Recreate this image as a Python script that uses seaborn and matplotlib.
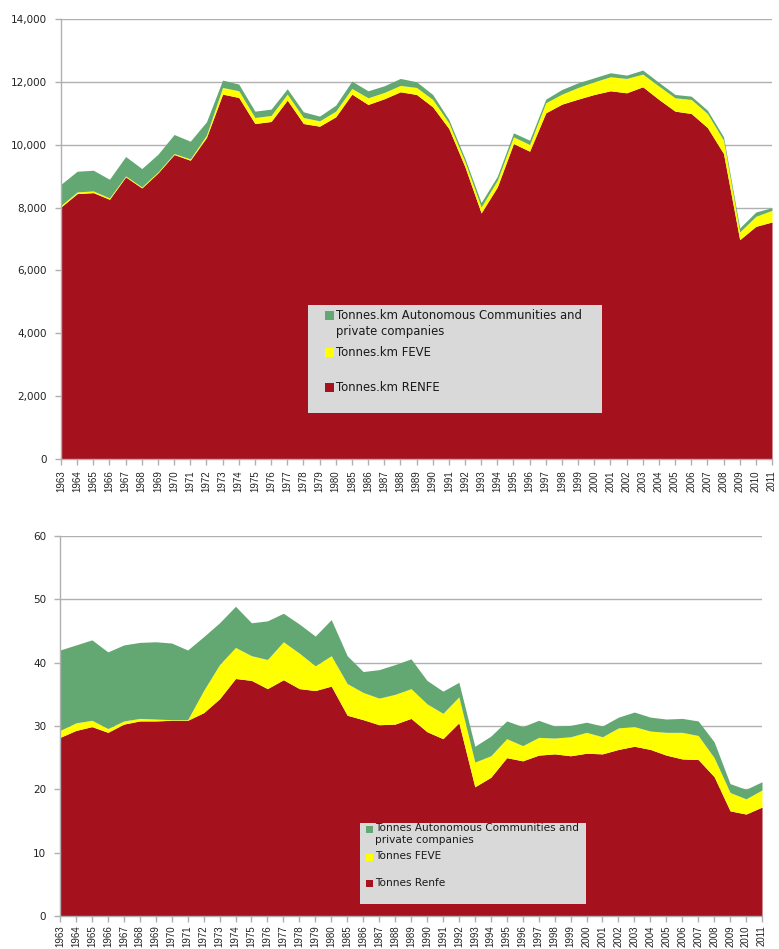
import numpy as np
import pandas as pd
import matplotlib
matplotlib.use("Agg")
import matplotlib.pyplot as plt
from matplotlib.patches import Rectangle
from matplotlib.ticker import FuncFormatter
import seaborn as sns

# years on the category axis (1981-1984 are missing in the source)
years = list(range(1963, 1981)) + list(range(1985, 2012))

# freight in tonnes.km (top chart)
renfe_tkm = [8020, 8445, 8476, 8264, 8976, 8625, 9103, 9687, 9507, 10229,
             11610, 11504, 10675, 10739, 11419, 10675, 10590, 10888,
             11610, 11281, 11461, 11684, 11599, 11206, 10516, 9294, 7829,
             8657, 10038, 9794, 11015, 11291, 11451, 11599, 11716, 11652,
             11843, 11440, 11068, 10994, 10548, 9719, 6979, 7403, 7542]
feve_tkm = [50, 53, 54, 42, 31, 32, 32, 32, 42, 74,
            212, 212, 191, 191, 191, 191, 170, 180,
            180, 212, 202, 202, 223, 234, 180, 160, 191,
            212, 212, 212, 319, 319, 371, 404, 446, 457,
            404, 425, 425, 446, 446, 425, 244, 319, 371]
other_tkm = [672, 658, 658, 595, 617, 584, 563, 606, 563, 425,
             234, 213, 202, 202, 170, 181, 149, 191,
             234, 223, 212, 223, 181, 159, 107, 106, 138,
             128, 128, 138, 117, 149, 149, 127, 128, 106,
             128, 117, 106, 106, 106, 106, 127, 138, 85]

# freight in tonnes (bottom chart)
renfe_t = [28.2, 29.3, 29.9, 29.0, 30.3, 30.8, 30.8, 30.9, 30.9, 32.1,
           34.3, 37.5, 37.2, 35.9, 37.3, 35.9, 35.6, 36.3,
           31.7, 31.0, 30.2, 30.3, 31.2, 29.1, 28.0, 30.5, 20.4,
           21.9, 25.0, 24.5, 25.4, 25.6, 25.3, 25.7, 25.6, 26.3,
           26.8, 26.3, 25.4, 24.8, 24.7, 22.0, 16.6, 16.1, 17.2]
feve_t = [1.1, 1.2, 1.0, 0.6, 0.5, 0.4, 0.3, 0.1, 0.1, 3.5,
          5.4, 4.9, 3.9, 4.6, 6.0, 5.6, 3.9, 4.8,
          5.0, 4.3, 4.2, 4.7, 4.7, 4.4, 4.0, 4.1, 3.9,
          3.4, 3.0, 2.4, 2.8, 2.5, 3.0, 3.3, 2.7, 3.4,
          3.1, 2.9, 3.6, 4.2, 3.8, 3.0, 2.9, 2.4, 2.7]
other_t = [12.7, 12.3, 12.7, 12.1, 12.0, 12.0, 12.2, 12.1, 11.0, 8.5,
           6.6, 6.5, 5.2, 6.1, 4.5, 4.6, 4.7, 5.7,
           4.4, 3.3, 4.5, 4.7, 4.7, 3.7, 3.5, 2.3, 2.5,
           3.1, 2.8, 3.0, 2.7, 1.9, 1.8, 1.6, 1.7, 1.7,
           2.3, 2.2, 2.1, 2.2, 2.3, 2.5, 1.4, 1.5, 1.3]

labels_tkm = ["Tonnes.km RENFE", "Tonnes.km FEVE",
              "Tonnes.km Autonomous Communities and\nprivate companies"]
labels_t = ["Tonnes Renfe", "Tonnes FEVE",
            "Tonnes Autonomous Communities and\nprivate companies"]

RED = "#A6111E"
YELLOW = "#FFFF00"
GREEN = "#63A873"
LEGEND_BG = "#D9D9D9"
GRID = "#B0B0B0"

sns.set_style("white")
plt.rcParams["font.family"] = ["DejaVu Sans"]

W, H = 779, 949
fig = plt.figure(figsize=(W / 100, H / 100), dpi=100)


def px_rect(left, top, right, bottom):
    return [left / W, 1 - bottom / H, (right - left) / W, (bottom - top) / H]


def stacked_area(ax, df, cols, colors):
    x = np.arange(len(df))
    base = np.zeros(len(df))
    for col, c in zip(cols, colors):
        top = base + df[col].to_numpy()
        ax.fill_between(x, base, top, color=c, lw=0, zorder=2)
        base = top


def style_axis(ax, ymax, ystep, xfs, xpad, fmt):
    ax.set_xlim(0, len(years) - 1)
    ax.set_ylim(0, ymax)
    ax.set_xticks(np.arange(len(years)))
    ax.set_xticklabels([str(y) for y in years], rotation=90,
                       fontsize=xfs, family="Liberation Sans")
    ax.set_yticks(np.arange(0, ymax + 1, ystep))
    ax.yaxis.set_major_formatter(FuncFormatter(fmt))
    ax.tick_params(axis="y", labelsize=7.5, length=4, width=1, color=GRID,
                   pad=6, direction="out", left=True, labelcolor="#222222")
    ax.tick_params(axis="x", length=4, width=1, color=GRID, pad=xpad,
                   direction="out", bottom=True, labelcolor="#222222")
    ax.grid(axis="y", color=GRID, lw=1)
    ax.set_axisbelow(True)
    for s in ["top", "right"]:
        ax.spines[s].set_visible(False)
    for s in ["left", "bottom"]:
        ax.spines[s].set_color(GRID)
        ax.spines[s].set_linewidth(1)
    ax.set_xlabel("")
    ax.set_ylabel("")


def draw_legend(box, entries, text_x, sq, fs):
    b = px_rect(*box)
    fig.add_artist(Rectangle((b[0], b[1]), b[2], b[3],
                             transform=fig.transFigure, facecolor=LEGEND_BG,
                             edgecolor="none", zorder=5))
    for label, color, sq_x, sq_top, text_top in entries:
        r = px_rect(sq_x, sq_top, sq_x + sq, sq_top + sq)
        fig.add_artist(Rectangle((r[0], r[1]), r[2], r[3],
                                 transform=fig.transFigure, facecolor=color,
                                 edgecolor="none", zorder=6))
        fig.text(text_x / W, 1 - text_top / H, label, fontsize=fs,
                 va="top", ha="left", color="#1a1a1a", zorder=7,
                 linespacing=1.25)


# top chart: tonnes.km
df_tkm = pd.DataFrame({"year": years, "renfe": renfe_tkm,
                       "feve": feve_tkm, "other": other_tkm})
ax1 = fig.add_axes(px_rect(61, 19, 772, 459))
stacked_area(ax1, df_tkm, ["renfe", "feve", "other"], [RED, YELLOW, GREEN])
style_axis(ax1, 14000, 2000, 7, 4, lambda v, p: f"{int(v):,}")

draw_legend((308, 305, 602, 413),
            [(labels_tkm[2], GREEN, 325, 311, 309),
             (labels_tkm[1], YELLOW, 325, 348, 346),
             (labels_tkm[0], RED, 325, 383, 381)],
            336, 8.5, 8.4)

# bottom chart: tonnes
df_t = pd.DataFrame({"year": years, "renfe": renfe_t,
                     "feve": feve_t, "other": other_t})
ax2 = fig.add_axes(px_rect(60, 536, 762, 916))
stacked_area(ax2, df_t, ["renfe", "feve", "other"], [RED, YELLOW, GREEN])
style_axis(ax2, 60, 10, 7, 2.5, lambda v, p: f"{int(v)}")

draw_legend((360, 823, 586, 904),
            [(labels_t[2], GREEN, 366, 826, 823),
             (labels_t[1], YELLOW, 366, 854, 851),
             (labels_t[0], RED, 366, 880, 878)],
            375, 7, 7.6)

fig.savefig("out.png", dpi=100)
